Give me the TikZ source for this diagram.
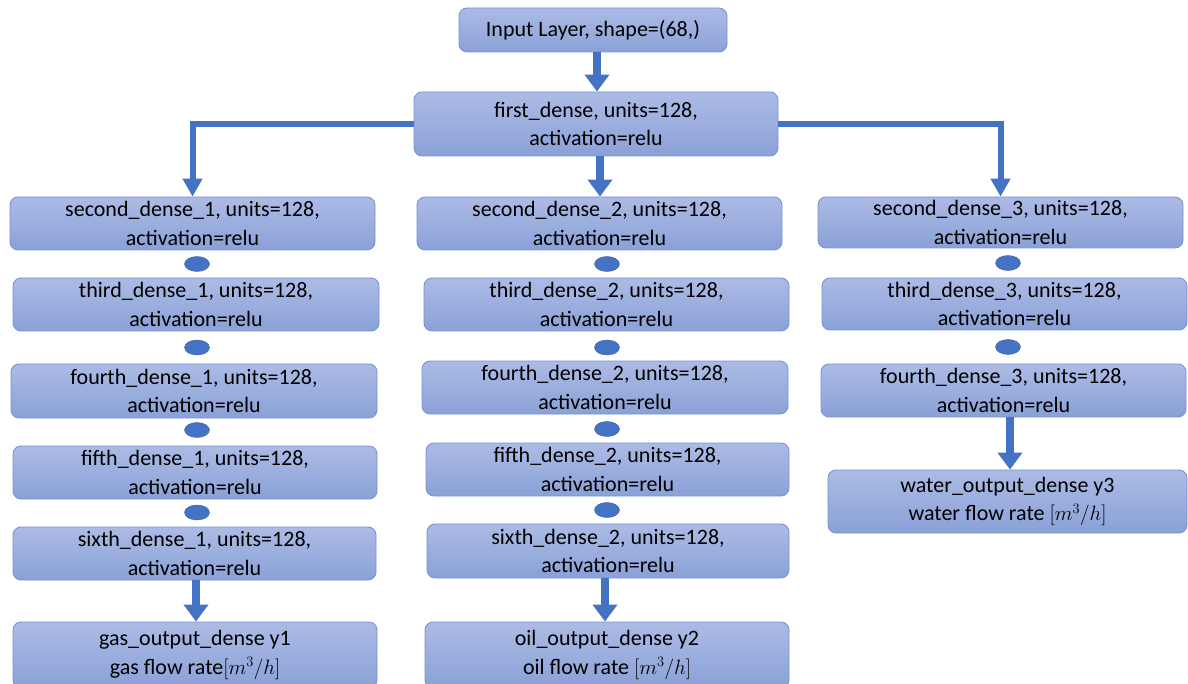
\documentclass[tikz,border=0pt]{standalone}
\usepackage{fontspec}
\setmainfont{Carlito}
\usetikzlibrary{arrows.meta,shapes.geometric}
\definecolor{boxtop}{RGB}{172,187,229}
\definecolor{boxbot}{RGB}{138,161,215}
\definecolor{boxedge}{RGB}{118,148,214}
\definecolor{flow}{RGB}{68,114,196}
\tikzset{
  layer/.style={rectangle, rounded corners=8pt, draw=boxedge, line width=0.9pt,
    top color=boxtop, bottom color=boxbot, align=center, text=black,
    font=\fontsize{22}{28.5}\selectfont, inner sep=0pt},
  link/.style={ellipse, fill=flow, draw=flow!85!black, line width=0.4pt,
    minimum width=25pt, minimum height=15pt, inner sep=0pt},
  fatarrow/.style={draw=flow, line width=8pt,
    -{Triangle[length=17pt, width=24pt]}},
  branch/.style={draw=flow, line width=6pt,
    -{Triangle[length=18pt, width=19pt]}},
}
\begin{document}
\begin{tikzpicture}[x=1pt, y=-1pt]
\clip (0,0) rectangle (1188,684);
\fill[white] (0,0) rectangle (1188,684);

% input and shared layer
\node[layer, minimum width=268pt, minimum height=44pt] (in) at (593,30) {Input Layer, shape=(68,)};
\node[layer, minimum width=364pt, minimum height=64pt] (first) at (596,124) {first\_dense, units=128,\\activation=relu};

% gas branch
\node[layer, minimum width=365pt, minimum height=53pt] (s1) at (192.5,223.5) {second\_dense\_1, units=128,\\activation=relu};
\node[layer, minimum width=366pt, minimum height=53pt] (t1) at (196,304.5) {third\_dense\_1, units=128,\\activation=relu};
\node[layer, minimum width=366pt, minimum height=54pt] (f1) at (194,391) {fourth\_dense\_1, units=128,\\activation=relu};
\node[layer, minimum width=364pt, minimum height=53pt] (v1) at (195,472.5) {fifth\_dense\_1, units=128,\\activation=relu};
\node[layer, minimum width=363pt, minimum height=53pt] (x1) at (194.5,553.5) {sixth\_dense\_1, units=128,\\activation=relu};
\node[layer, minimum width=364pt, minimum height=66pt] (gas) at (195,655) {gas\_output\_dense y1\\gas flow rate$[m^3/h]$};

% oil branch
\node[layer, minimum width=365pt, minimum height=53pt] (s2) at (599.5,223.5) {second\_dense\_2, units=128,\\activation=relu};
\node[layer, minimum width=365pt, minimum height=53pt] (t2) at (606.5,304.5) {third\_dense\_2, units=128,\\activation=relu};
\node[layer, minimum width=366pt, minimum height=53pt] (f2) at (605,387.5) {fourth\_dense\_2, units=128,\\activation=relu};
\node[layer, minimum width=363pt, minimum height=53pt] (v2) at (607.5,469.5) {fifth\_dense\_2, units=128,\\activation=relu};
\node[layer, minimum width=362pt, minimum height=54pt] (x2) at (608,551) {sixth\_dense\_2, units=128,\\activation=relu};
\node[layer, minimum width=364pt, minimum height=66pt] (oil) at (607,655) {oil\_output\_dense y2\\oil flow rate $[m^3/h]$};

% water branch
\node[layer, minimum width=365pt, minimum height=51pt] (s3) at (1000.5,222.5) {second\_dense\_3, units=128,\\activation=relu};
\node[layer, minimum width=365pt, minimum height=52pt] (t3) at (1004.5,304) {third\_dense\_3, units=128,\\activation=relu};
\node[layer, minimum width=365pt, minimum height=53pt] (f3) at (1003.5,390.5) {fourth\_dense\_3, units=128,\\activation=relu};
\node[layer, minimum width=359pt, minimum height=63pt] (water) at (1007.5,501.5) {water\_output\_dense y3\\water flow rate $[m^3/h]$};

% joints between stacked layers
\node[link] (j1a) at (197,264) {};
\node[link] (j1b) at (197,347.5) {};
\node[link] (j1c) at (197,430) {};
\node[link] (j1d) at (197,512.5) {};
\node[link] (j2a) at (607,264) {};
\node[link] (j2b) at (607,347.5) {};
\node[link] (j2c) at (607,429) {};
\node[link] (j2d) at (607,510) {};
\node[link] (j3a) at (1008,263) {};
\node[link] (j3b) at (1008,347) {};

% connectors
\draw[fatarrow] ([xshift=4pt]in.south) -- ([xshift=4pt]in.south |- first.north);
\draw[fatarrow] ([xshift=4pt]first.south) -- ([xshift=4pt]first.south |- s2.north);
\draw[branch] (first.west) -| (s1.north);
\draw[branch] (first.east) -| (s3.north);
\draw[fatarrow] ([xshift=1.5pt]x1.south) -- ([xshift=1.5pt]x1.south |- gas.north);
\draw[fatarrow] ([xshift=-3pt]x2.south) -- ([xshift=-3pt]x2.south |- oil.north);
\draw[fatarrow] ([xshift=6.5pt]f3.south) -- ([xshift=6.5pt]f3.south |- water.north);
\end{tikzpicture}
\end{document}
